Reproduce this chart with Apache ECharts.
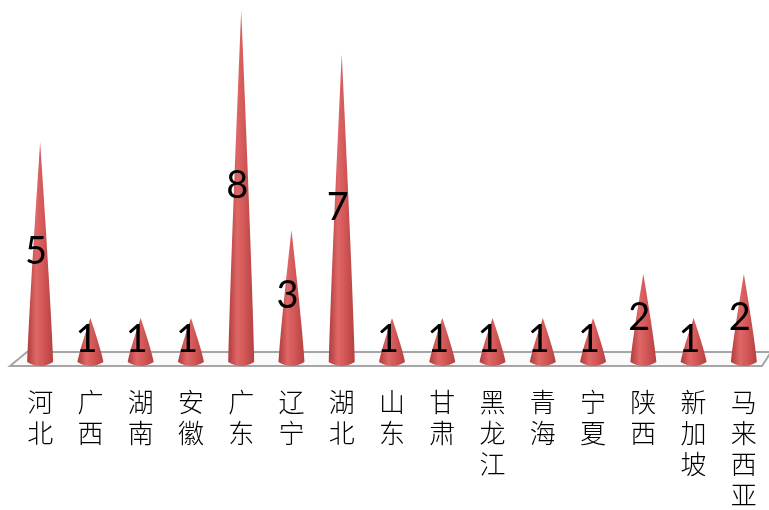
<!DOCTYPE html>
<html>
<head>
<meta charset="utf-8">
<script src="https://cdn.jsdelivr.net/npm/echarts@6/dist/echarts.min.js"></script>
<style>html,body{margin:0;padding:0;background:#fff;}#c{width:769px;height:510px;}</style>
</head>
<body>
<div id="c"></div>
<script>
const categories = ['河北','广西','湖南','安徽','广东','辽宁','湖北','山东','甘肃','黑龙江','青海','宁夏','陕西','新加坡','马来西亚'];
const values = [5,1,1,1,8,3,7,1,1,1,1,1,2,1,2];

const chart = echarts.init(document.getElementById('c'));
const coneFill = new echarts.graphic.LinearGradient(0,0,1,0,[
  {offset:0,color:'#b03a3a'},
  {offset:0.35,color:'#de6767'},
  {offset:0.6,color:'#d45858'},
  {offset:1,color:'#b54141'}
]);
function renderCone(params, api){
  const i = api.value(0), v = api.value(1);
  const base = api.coord([i,0]);
  const tip = api.coord([i,v]);
  const hw = 13, h = base[1]-tip[1];
  const cx = base[0];
  const by = base[1];
  const a = 11, b = 0.25;
  const p = 'M'+cx+','+tip[1]+
    ' Q'+(cx+a)+','+(by-b*h)+' '+(cx+hw)+','+by+
    ' Q'+cx+','+(by+8)+' '+(cx-hw)+','+by+
    ' Q'+(cx-a)+','+(by-b*h)+' '+cx+','+tip[1]+' Z';
  return {
    type:'path',
    shape:{pathData:p},
    style:{fill:coneFill},
    textContent:{style:{text:String(v),fill:'#000',fontSize:38,fontFamily:'Lato'}},
    textConfig:{position:'inside',offset:[-4,-2]}
  };
}
chart.setOption({
  animation:false,
  grid:{left:15,right:0,top:10,bottom:148,outerBoundsMode:'none',containLabel:false},
  xAxis:{
    type:'category',data:categories,
    axisLine:{show:false},axisTick:{show:false},
    axisLabel:{interval:0,margin:25,color:'#000',fontSize:26,lineHeight:31,
      fontFamily:'Noto Sans CJK SC',fontWeight:300,
      formatter:v=>v.split('').join('\n')}
  },
  yAxis:{type:'value',min:0,max:8,show:false,splitLine:{show:false}},
  series:[{
    type:'custom',
    data:values.map((v,i)=>[i,v]),
    encode:{x:0,y:1},
    renderItem:renderCone,
    z:5
  }]
});

function drawFloor(){
  const y0 = chart.convertToPixel({yAxisIndex:0},0);
  const x0 = chart.convertToPixel({xAxisIndex:0},0);
  const x1 = chart.convertToPixel({xAxisIndex:0},categories.length-1);
  const band = (x1-x0)/(categories.length-1);
  const left = x0 - band/2, right = x1 + band/2;
  chart.setOption({graphic:[{
    type:'polygon',z:-10,
    shape:{points:[[left-5,y0+4],[left+12,y0-10],[right+2,y0-10],[right-7,y0+4]]},
    style:{fill:'#fafafa',stroke:'#a6a6a6',lineWidth:2}
  }]});
}
drawFloor();
</script>
</body>
</html>
